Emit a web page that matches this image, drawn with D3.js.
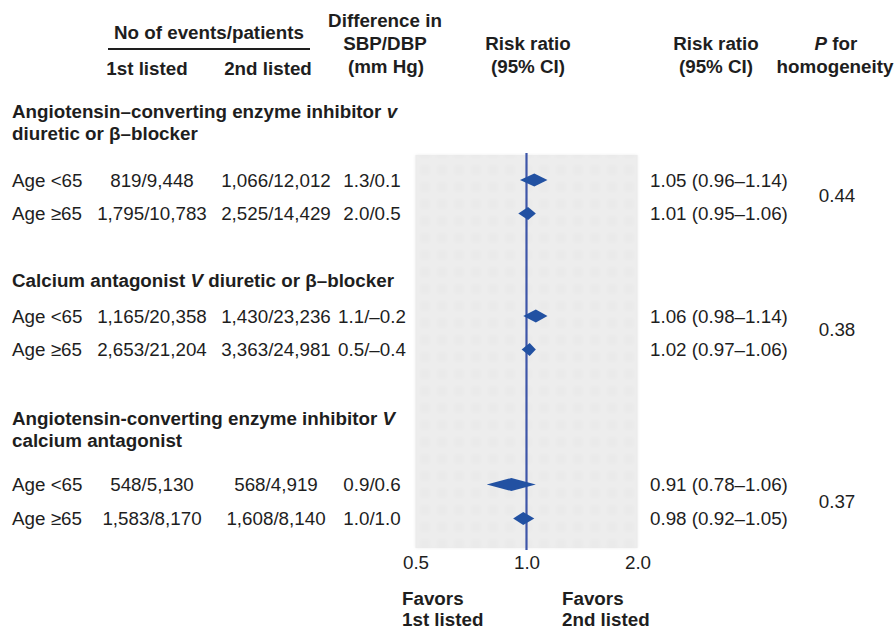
<!DOCTYPE html>
<html>
<head>
<meta charset="utf-8">
<script src="https://cdn.jsdelivr.net/npm/d3@7"></script>
<style>
  html, body { margin: 0; padding: 0; background: #fff; }
  svg text { font-family: "Liberation Sans", Arial, Helvetica, sans-serif; fill: #1e1e1e; }
</style>
</head>
<body>
<svg id="chart" width="896" height="630"></svg>
<script>
// ---- data ----
// comparison titles, one entry per line; segments flagged "it" are italic
const comparisonTitles = [
  [[{ t: "Angiotensin–converting enzyme inhibitor " }, { t: "v", it: true }], [{ t: "diuretic or β–blocker" }]],
  [[{ t: "Calcium antagonist " }, { t: "V", it: true }, { t: " diuretic or β–blocker" }]],
  [[{ t: "Angiotensin-converting enzyme inhibitor " }, { t: "V", it: true }], [{ t: "calcium antagonist" }]]
];
const ageGroups = ["Age <65", "Age ≥65"];
const events1st = ["819/9,448", "1,795/10,783", "1,165/20,358", "2,653/21,204", "548/5,130", "1,583/8,170"];
const events2nd = ["1,066/12,012", "2,525/14,429", "1,430/23,236", "3,363/24,981", "568/4,919", "1,608/8,140"];
const bpDifference = ["1.3/0.1", "2.0/0.5", "1.1/–0.2", "0.5/–0.4", "0.9/0.6", "1.0/1.0"];
const riskRatio = [1.05, 1.01, 1.06, 1.02, 0.91, 0.98];
const ciLower = [0.96, 0.95, 0.98, 0.97, 0.78, 0.92];
const ciUpper = [1.14, 1.06, 1.14, 1.06, 1.06, 1.05];
const pHomogeneity = ["0.44", "0.38", "0.37"];
const axisTicks = [0.5, 1.0, 2.0];

// ---- layout ----
const svg = d3.select("#chart");
const FS = 18.8;
const ink = "#1e1e1e";
const diamondBlue = "#2251a2";
const lineBlue = "#3d55a8";

const panel = { left: 415.5, right: 637.5, top: 155, bottom: 548 };
const x = d3.scaleLog().domain([0.5, 2]).range([panel.left, panel.right]);

const titleBaselines = [[118, 140], [287], [425, 447]];
const rowCenters = [180, 213.5, 316, 349.5, 484.5, 518.5];
const pCenters = [195, 329, 501];

// panel background with a faint woven texture
const defs = svg.append("defs");
const pat = defs.append("pattern")
  .attr("id", "panelTex").attr("patternUnits", "userSpaceOnUse")
  .attr("width", 17).attr("height", 17);
pat.append("rect").attr("width", 17).attr("height", 17).attr("fill", "#eaeaea");
pat.append("rect").attr("x", 5).attr("width", 7).attr("height", 17).attr("fill", "#ededed");
pat.append("rect").attr("y", 5).attr("width", 17).attr("height", 7).attr("fill", "#ededed");
defs.append("filter").attr("id", "soft").append("feGaussianBlur").attr("stdDeviation", 1.5);

svg.append("rect")
  .attr("x", panel.left).attr("y", panel.top)
  .attr("width", panel.right - panel.left).attr("height", panel.bottom - panel.top)
  .attr("fill", "#ebebeb");
svg.append("rect")
  .attr("x", panel.left).attr("y", panel.top)
  .attr("width", panel.right - panel.left).attr("height", panel.bottom - panel.top)
  .attr("fill", "url(#panelTex)").attr("filter", "url(#soft)");

// ---- column headers ----
function label(txt, xPos, y, opts = {}) {
  return svg.append("text")
    .attr("x", xPos).attr("y", y)
    .attr("text-anchor", opts.anchor || "middle")
    .attr("font-size", opts.size || FS)
    .attr("font-weight", opts.bold ? "bold" : "normal")
    .attr("font-style", opts.italic ? "italic" : "normal")
    .text(txt);
}

label("No of events/patients", 209, 38.5, { bold: true });
svg.append("line").attr("x1", 108).attr("x2", 310).attr("y1", 49).attr("y2", 49)
  .attr("stroke", ink).attr("stroke-width", 2);
label("1st listed", 147, 75, { bold: true });
label("2nd listed", 268, 75, { bold: true });
label("Difference in", 385, 27, { bold: true });
label("SBP/DBP", 385, 50, { bold: true });
label("(mm Hg)", 386, 73, { bold: true });
label("Risk ratio", 528, 50, { bold: true });
label("(95% CI)", 528, 73, { bold: true });
label("Risk ratio", 716, 50, { bold: true });
label("(95% CI)", 716, 73, { bold: true });
const pfor = svg.append("text").attr("x", 836).attr("y", 50).attr("text-anchor", "middle")
  .attr("font-size", FS).attr("font-weight", "bold");
pfor.append("tspan").attr("font-style", "italic").text("P");
pfor.append("tspan").text(" for");
label("homogeneity", 835, 73, { bold: true });

// ---- comparison titles ----
comparisonTitles.forEach((lines, g) => {
  lines.forEach((segs, li) => {
    const t = svg.append("text").attr("x", 12).attr("y", titleBaselines[g][li])
      .attr("font-size", FS).attr("font-weight", "bold");
    segs.forEach(s => t.append("tspan").attr("font-style", s.it ? "italic" : "normal").text(s.t));
  });
});

// ---- rows ----
const fmt = d3.format(".2f");
const rows = riskRatio.map((rr, i) => ({
  age: ageGroups[i % 2], e1: events1st[i], e2: events2nd[i], bp: bpDifference[i],
  rr, lo: ciLower[i], hi: ciUpper[i], y: rowCenters[i]
}));

const rowG = svg.append("g").selectAll("g").data(rows).join("g")
  .attr("transform", d => `translate(0,${d.y + 6.7})`);
rowG.append("text").attr("x", 12).attr("font-size", FS).text(d => d.age);
rowG.append("text").attr("x", 152).attr("text-anchor", "middle").attr("font-size", FS).text(d => d.e1);
rowG.append("text").attr("x", 276).attr("text-anchor", "middle").attr("font-size", FS).text(d => d.e2);
rowG.append("text").attr("x", 372).attr("text-anchor", "middle").attr("font-size", FS).text(d => d.bp);
rowG.append("text").attr("x", 650).attr("font-size", FS)
  .text(d => `${fmt(d.rr)} (${fmt(d.lo)}–${fmt(d.hi)})`);

// P for homogeneity, one per comparison
svg.append("g").selectAll("text").data(pHomogeneity).join("text")
  .attr("x", 837).attr("y", (d, i) => pCenters[i] + 6.7)
  .attr("text-anchor", "middle").attr("font-size", FS).text(d => d);

// ---- line of no effect ----
svg.append("line")
  .attr("x1", x(1)).attr("x2", x(1)).attr("y1", panel.top - 2).attr("y2", panel.bottom + 2)
  .attr("stroke", lineBlue).attr("stroke-width", 2.2);

// ---- diamonds: left = lower CI, peak = estimate, right = upper CI ----
const halfH = 6.5;
svg.append("g").selectAll("path").data(rows).join("path")
  .attr("d", d => `M${x(d.lo)},${d.y} L${x(d.rr)},${d.y - halfH} L${x(d.hi)},${d.y} L${x(d.rr)},${d.y + halfH} Z`)
  .attr("fill", diamondBlue);

// ---- axis ----
const axis = d3.axisBottom(x).tickValues(axisTicks).tickFormat(d3.format(".1f")).tickSize(0).tickPadding(8);
const axG = svg.append("g").attr("transform", `translate(0,${panel.bottom})`).call(axis);
axG.select(".domain").remove();
axG.selectAll("text").attr("font-size", FS).attr("font-family", "Liberation Sans, Arial, sans-serif")
  .attr("fill", "#2a2a2a");

// ---- favour annotations ----
label("Favors", 402, 605, { bold: true, anchor: "start" });
label("1st listed", 402, 626, { bold: true, anchor: "start" });
label("Favors", 562, 605, { bold: true, anchor: "start" });
label("2nd listed", 562, 626, { bold: true, anchor: "start" });
</script>
</body>
</html>
